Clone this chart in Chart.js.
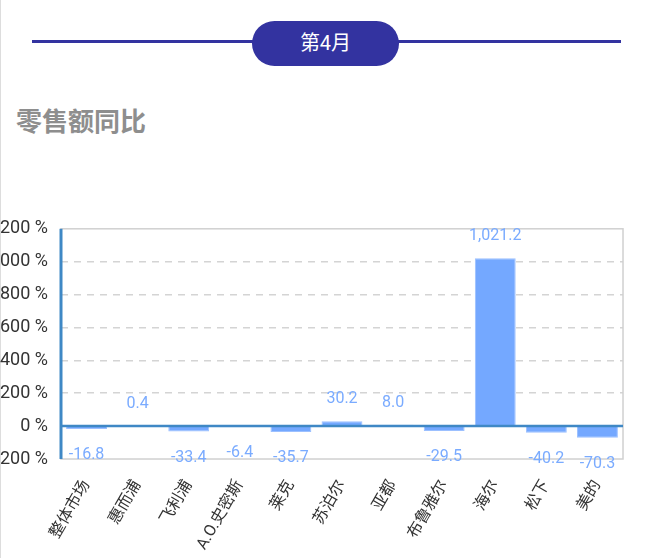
<!DOCTYPE html>
<html>
<head>
<meta charset="utf-8">
<script src="https://cdn.jsdelivr.net/npm/chart.js"></script>
<style>
    body { margin: 0; background: #fff; width: 650px; height: 558px; overflow: hidden; position: relative; font-family: Roboto, "Noto Sans CJK SC", sans-serif; }
    .edge { position: absolute; left: 0; top: 0; width: 1px; height: 558px; background: #ddd; }
    .rule { position: absolute; left: 32px; width: 589px; top: 40px; height: 3px; background: #3333a0; }
    .pill { position: absolute; left: 252px; top: 21px; width: 147px; height: 45px; border-radius: 23px; background: #3333a0; color: #fff; font-size: 20px; line-height: 45px; text-align: center; font-family: Roboto, "Noto Sans CJK SC", sans-serif; }
    h2 { position: absolute; left: 16px; top: 101px; margin: 0; font-size: 26px; font-weight: bold; color: #8e8e8e; font-family: "Noto Sans CJK SC", sans-serif; line-height: 38px; }
    .chart-box { position: absolute; left: 0; top: 205px; width: 650px; height: 353px; }
</style>
</head>
<body>
<div class="edge"></div>
<div class="rule"></div>
<div class="pill">第4月</div>
<h2>零售额同比</h2>
<div class="chart-box"><canvas id="yoy-chart"></canvas></div>
<script>
// ブランド別 零售额同比 (第4月)
const brands = ['整体市场', '惠而浦', '飞利浦', 'A.O.史密斯', '莱克', '苏泊尔', '亚都', '布鲁雅尔', '海尔', '松下', '美的'];
const yoyValues = [-16.8, 0.4, -33.4, -6.4, -35.7, 30.2, 8.0, -29.5, 1021.2, -40.2, -70.3];
const yTicks = [-200, 0, 200, 400, 600, 800, 1000, 1200];

// 枠・ゼロ線・軸線・数値ラベルを描画するプラグイン
const framePlugin = {
    id: 'frame',
    beforeDatasetsDraw(chart) {
        const a = chart.chartArea;
        const ctx = chart.ctx;
        ctx.save();
        ctx.strokeStyle = '#d0d0d0';
        ctx.lineWidth = 1.5;
        ctx.strokeRect(a.left, a.top, a.right - a.left, a.bottom - a.top);
        ctx.restore();
    },
    afterDatasetsDraw(chart) {
        const a = chart.chartArea;
        const ctx = chart.ctx;
        const y = chart.scales.y;
        const y0 = y.getPixelForValue(0);
        ctx.save();
        ctx.strokeStyle = '#3f88c5';
        ctx.lineWidth = 2.5;
        ctx.beginPath();
        ctx.moveTo(a.left, y0);
        ctx.lineTo(a.right, y0);
        ctx.stroke();
        ctx.lineWidth = 3;
        ctx.beginPath();
        ctx.moveTo(a.left, a.top);
        ctx.lineTo(a.left, a.bottom);
        ctx.stroke();

        // 数値ラベル
        const meta = chart.getDatasetMeta(0);
        ctx.fillStyle = '#7aabff';
        ctx.font = '16px Roboto';
        ctx.textAlign = 'center';
        ctx.textBaseline = 'middle';
        meta.data.forEach((bar, i) => {
            const v = yoyValues[i];
            const text = v.toLocaleString('en-US', { minimumFractionDigits: 1, maximumFractionDigits: 1 });
            const ty = v >= 0 ? bar.y - 22 : bar.y + 26;
            ctx.fillText(text, bar.x, ty);
        });
        ctx.restore();
    }
};

const ctx = document.getElementById('yoy-chart').getContext('2d');
new Chart(ctx, {
    type: 'bar',
    data: {
        labels: brands,
        datasets: [{
            data: yoyValues,
            backgroundColor: '#74a8ff',
            borderColor: '#9cc0ff',
            borderWidth: 1,
            barPercentage: 0.8,
            categoryPercentage: 1.0
        }]
    },
    options: {
        responsive: true,
        maintainAspectRatio: false,
        animation: false,
        layout: { padding: { top: 17, right: 27, left: 0, bottom: 0 } },
        plugins: {
            legend: { display: false },
            tooltip: { enabled: false }
        },
        scales: {
            x: {
                grid: { display: false },
                border: { display: false },
                ticks: {
                    color: '#333',
                    font: { size: 16, family: 'Roboto, "Noto Sans CJK SC"' },
                    minRotation: 60,
                    maxRotation: 60,
                    padding: 10,
                    autoSkip: false
                },
                afterFit(scale) { scale.height = 99; }
            },
            y: {
                min: -200,
                max: 1200,
                afterBuildTicks(scale) { scale.ticks = yTicks.map(v => ({ value: v })); },
                grid: {
                    color: (c) => (c.tick && (c.tick.value === 1200 || c.tick.value === -200 || c.tick.value === 0)) ? 'rgba(0,0,0,0)' : '#d4d4d4',
                    lineWidth: 1.5,
                    drawTicks: false
                },
                border: { display: false, dash: [7, 6] },
                ticks: {
                    color: '#333',
                    font: { size: 18, family: 'Roboto' },
                    padding: 13,
                    callback: (v) => v + ' %'
                },
                afterFit(scale) { scale.width = 61; }
            }
        }
    },
    plugins: [framePlugin]
});
</script>
</body>
</html>
